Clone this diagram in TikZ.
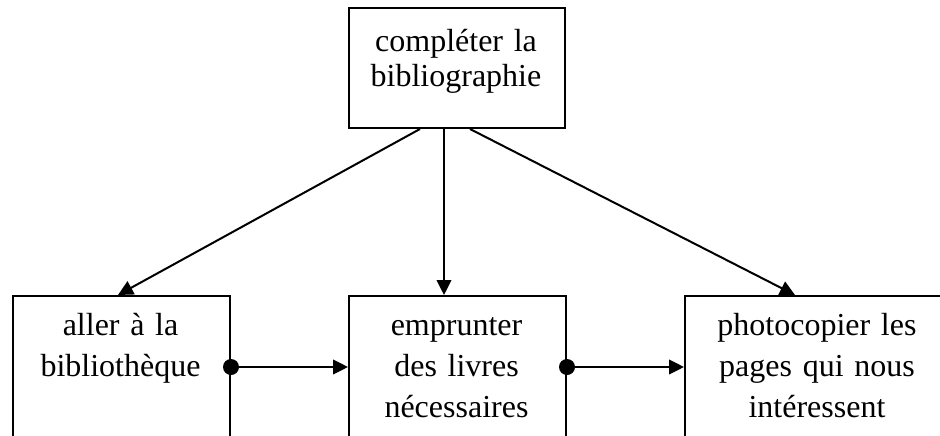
\documentclass[tikz,border=0pt]{standalone}
\usepackage{fontspec}
\setmainfont{Liberation Serif}
\usetikzlibrary{arrows.meta,calc}
\begin{document}
\begin{tikzpicture}[x=0.75pt,y=-0.75pt,
  box/.style={draw,line width=1.5pt,rectangle,inner sep=0pt,anchor=north west},
  lbltop/.style={anchor=base,align=center,inner sep=0pt,text width=200pt,
    font=\fontsize{24pt}{26.25pt}\selectfont},
  lblbot/.style={anchor=base,align=center,inner sep=0pt,text width=200pt,
    font=\fontsize{24pt}{30.75pt}\selectfont},
  arr/.style={line width=1.5pt,-{Triangle[length=11.25pt,width=11pt]}},
  dot/.style={circle,fill,inner sep=0pt,minimum size=12pt}
]
\useasboundingbox (0,0) rectangle (940,436);
\clip (0,0) rectangle (940,436);

% boxes
\node[box,minimum width=162pt,minimum height=90pt] (top) at (348,7) {};
\node[box,minimum width=162.75pt,minimum height=150pt] (left) at (12,295) {};
\node[box,minimum width=162.75pt,minimum height=150pt] (mid) at (348,295) {};
\node[box,minimum width=199.5pt,minimum height=150pt] (right) at (684,295) {};

% labels
\node[lbltop] (ttop) at (456,51) {compléter la\\bibliographie};
\node[lblbot] (tleft) at (120.5,335) {aller à la\\bibliothèque};
\node[lblbot] (tmid) at (456.5,335) {emprunter\\des livres\\nécessaires};
\node[lblbot] (tright) at (817,335) {photocopier les\\pages qui nous\\intéressent};

% connectors from the top box
\draw[arr] ($(top.south west)+(72,0)$) -- ($(left.north west)+(106,0)$);
\draw[arr] ($(top.south west)+(96,0)$) -- ($(mid.north west)+(96,0)$);
\draw[arr] ($(top.south west)+(122,0)$) -- ($(right.north west)+(111,0)$);

% sequence links between the bottom boxes
\coordinate (d1) at ($(left.north east)+(0,72)$);
\coordinate (e1) at ($(mid.north west)+(0,72)$);
\coordinate (d2) at ($(mid.north east)+(0,72)$);
\coordinate (e2) at ($(right.north west)+(0,72)$);
\draw[arr] (d1) -- (e1);
\draw[arr] (d2) -- (e2);
\node[dot] (p1) at (d1) {};
\node[dot] (p2) at (d2) {};
\end{tikzpicture}
\end{document}
